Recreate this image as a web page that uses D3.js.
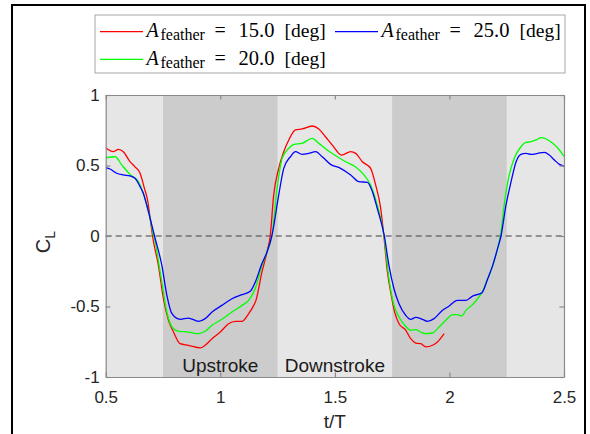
<!DOCTYPE html>
<html>
<head>
<meta charset="utf-8">
<script src="https://cdn.jsdelivr.net/npm/d3@7"></script>
<style>
    body { margin: 0; background: #fff; }
    svg { display: block; }
    .tick text { font-family: "Liberation Sans", Arial, sans-serif; font-size: 17px; fill: #262626; }
    .axis path, .axis line { stroke: #8a8a8a; stroke-width: 1.2; }
    .line { fill: none; stroke-width: 1.3; }
</style>
</head>
<body>
<svg id="diagram_cl" width="590" height="434"></svg>
<script>
// t/T, C_L
var red15 = [[0.500,0.626],[0.533,0.598],[0.555,0.615],[0.577,0.598],[0.606,0.527],[0.628,0.490],[0.650,0.445],[0.669,0.338],[0.684,0.243],[0.694,0.125],[0.706,-0.016],[0.730,-0.208],[0.752,-0.445],[0.774,-0.598],[0.796,-0.681],[0.825,-0.764],[0.861,-0.775],[0.913,-0.794],[0.934,-0.775],[0.964,-0.728],[1.000,-0.681],[1.036,-0.622],[1.066,-0.605],[1.095,-0.605],[1.124,-0.551],[1.146,-0.492],[1.155,-0.460],[1.182,-0.255],[1.204,-0.113],[1.218,0.000],[1.233,0.290],[1.255,0.480],[1.277,0.598],[1.299,0.681],[1.328,0.752],[1.357,0.759],[1.401,0.780],[1.430,0.759],[1.459,0.704],[1.489,0.645],[1.529,0.574],[1.569,0.598],[1.591,0.586],[1.620,0.527],[1.656,0.480],[1.678,0.362],[1.700,0.196],[1.714,0.000],[1.729,-0.250],[1.746,-0.420],[1.761,-0.540],[1.780,-0.622],[1.809,-0.667],[1.831,-0.728],[1.853,-0.759],[1.875,-0.764],[1.897,-0.787],[1.926,-0.775],[1.948,-0.752],[1.977,-0.693]];

var green20 = [[0.500,0.555],[0.541,0.562],[0.570,0.504],[0.606,0.437],[0.643,0.385],[0.664,0.303],[0.679,0.220],[0.694,0.125],[0.708,0.007],[0.716,-0.043],[0.738,-0.255],[0.767,-0.539],[0.789,-0.645],[0.818,-0.676],[0.861,-0.681],[0.905,-0.693],[0.934,-0.676],[0.964,-0.633],[1.000,-0.598],[1.051,-0.539],[1.095,-0.492],[1.124,-0.456],[1.153,-0.370],[1.182,-0.208],[1.204,-0.113],[1.226,0.007],[1.248,0.338],[1.270,0.551],[1.299,0.622],[1.321,0.650],[1.357,0.657],[1.401,0.693],[1.430,0.657],[1.467,0.610],[1.511,0.562],[1.547,0.527],[1.591,0.490],[1.627,0.433],[1.656,0.362],[1.685,0.220],[1.714,0.007],[1.736,-0.300],[1.758,-0.492],[1.780,-0.574],[1.809,-0.640],[1.831,-0.669],[1.853,-0.664],[1.875,-0.681],[1.897,-0.693],[1.926,-0.688],[1.955,-0.645],[1.984,-0.598],[2.014,-0.558],[2.035,-0.558],[2.054,-0.567],[2.072,-0.527],[2.101,-0.487],[2.123,-0.445],[2.142,-0.402],[2.167,-0.303],[2.189,-0.208],[2.210,-0.090],[2.225,0.028],[2.239,0.220],[2.261,0.433],[2.283,0.551],[2.312,0.633],[2.334,0.664],[2.356,0.669],[2.378,0.681],[2.400,0.697],[2.422,0.688],[2.451,0.657],[2.480,0.610],[2.500,0.565]];

var blue25 = [[0.500,0.484],[0.519,0.475],[0.548,0.445],[0.577,0.433],[0.606,0.426],[0.628,0.409],[0.650,0.350],[0.664,0.303],[0.679,0.220],[0.694,0.125],[0.713,0.000],[0.745,-0.208],[0.767,-0.421],[0.789,-0.551],[0.825,-0.591],[0.861,-0.582],[0.905,-0.605],[0.934,-0.586],[0.964,-0.539],[1.007,-0.492],[1.051,-0.445],[1.095,-0.416],[1.131,-0.392],[1.153,-0.326],[1.182,-0.195],[1.204,-0.113],[1.225,0.000],[1.255,0.290],[1.277,0.480],[1.306,0.562],[1.328,0.598],[1.357,0.579],[1.386,0.586],[1.416,0.598],[1.445,0.562],[1.481,0.508],[1.525,0.480],[1.569,0.433],[1.605,0.385],[1.642,0.381],[1.664,0.314],[1.685,0.196],[1.716,0.000],[1.736,-0.208],[1.758,-0.374],[1.780,-0.480],[1.809,-0.562],[1.831,-0.591],[1.853,-0.577],[1.882,-0.591],[1.904,-0.605],[1.933,-0.586],[1.970,-0.527],[1.999,-0.496],[2.035,-0.456],[2.072,-0.456],[2.101,-0.426],[2.142,-0.402],[2.167,-0.303],[2.189,-0.208],[2.210,-0.090],[2.225,0.000],[2.247,0.220],[2.269,0.385],[2.291,0.527],[2.312,0.579],[2.334,0.586],[2.356,0.579],[2.385,0.586],[2.414,0.593],[2.436,0.574],[2.458,0.539],[2.480,0.508],[2.500,0.496]];

var xTicks = [0.5, 1, 1.5, 2, 2.5];
var xTickLabels = ["0.5", "1", "1.5", "2", "2.5"];
var yTicks = [-1, -0.5, 0, 0.5, 1];
var yTickLabels = ["-1", "-0.5", "0", "0.5", "1"];

var upstrokeBands = [[0.75, 1.25], [1.75, 2.25]];
var phaseLabels = ["Upstroke", "Downstroke"];
var phaseLabelT = [1.0, 1.5];

var legendLabels = ["15.0", "25.0", "20.0"];

var svg = d3.select('#diagram_cl');

var margin = { top: 95, right: 26, bottom: 57, left: 105.7 }
    , width = svg.attr("width") - margin.left - margin.right
    , height = svg.attr("height") - margin.top - margin.bottom;

var xScale = d3.scaleLinear().domain([0.5, 2.5]).range([0, width]);
var yScale = d3.scaleLinear().domain([-1, 1]).range([height, 0]);

// figure frame
svg.append("rect")
    .attr("x", 12).attr("y", 5)
    .attr("width", 573).attr("height", 460)
    .attr("fill", "none")
    .attr("stroke", "#000")
    .attr("stroke-width", 2);

var g = svg.append("g")
    .attr("transform", `translate(${margin.left},${margin.top})`);

g.append("clipPath").attr("id", "plot-clip")
    .append("rect").attr("width", width).attr("height", height);

// background + upstroke shading
g.append("rect")
    .attr("width", width).attr("height", height)
    .attr("fill", "#e6e6e6");

g.selectAll(".band")
    .data(upstrokeBands)
    .enter().append("rect")
    .attr("x", d => xScale(d[0]))
    .attr("width", d => xScale(d[1]) - xScale(d[0]))
    .attr("y", 0)
    .attr("height", height)
    .attr("fill", "#cccccc");

g.append("line")
    .attr("x1", 0).attr("x2", width)
    .attr("y1", yScale(0)).attr("y2", yScale(0))
    .attr("stroke", "#404040")
    .attr("stroke-width", 1.2)
    .attr("stroke-dasharray", "6,4");

var lineCL = d3.line()
    .x(d => xScale(d[0]))
    .y(d => yScale(d[1]))
    .curve(d3.curveMonotoneX);

var series = [red15, green20, blue25];
var colors = ["#ff0000", "#00ff00", "#0000ff"];

for (let i = 0; i < series.length; i++) {
    g.append("path")
        .datum(series[i])
        .classed("line", true)
        .attr("clip-path", "url(#plot-clip)")
        .attr("stroke", colors[i])
        .attr("d", lineCL);
}

g.selectAll(".phase")
    .data(phaseLabels)
    .enter().append("text")
    .attr("x", (d, i) => xScale(phaseLabelT[i]))
    .attr("y", height - 5)
    .attr("text-anchor", "middle")
    .style("font-family", '"Liberation Sans", Arial, sans-serif')
    .style("font-size", "19px")
    .attr("fill", "#1a1a1a")
    .text(d => d);

//axis
g.append("g")
    .classed("axis", true)
    .attr("transform", "translate(0," + height + ")")
    .call(d3.axisBottom(xScale).tickValues(xTicks)
        .tickFormat((d, i) => xTickLabels[i])
        .tickSizeInner(-4.6).tickSizeOuter(0).tickPadding(14));

g.append("g")
    .classed("axis", true)
    .call(d3.axisTop(xScale).tickValues(xTicks).tickFormat("")
        .tickSizeInner(-4.6).tickSizeOuter(0));

g.append("g")
    .classed("axis", true)
    .call(d3.axisLeft(yScale).tickValues(yTicks)
        .tickFormat((d, i) => yTickLabels[i])
        .tickSizeInner(-4.6).tickSizeOuter(0).tickPadding(6));

g.append("g")
    .classed("axis", true)
    .attr("transform", "translate(" + width + ",0)")
    .call(d3.axisRight(yScale).tickValues(yTicks).tickFormat("")
        .tickSizeInner(-4.6).tickSizeOuter(0));

g.selectAll(".axis .tick text").attr("fill", "#262626");

g.append("text")
    .attr("x", xScale(1.5))
    .attr("y", height + 51)
    .style("text-anchor", "middle")
    .style("font-family", '"Liberation Sans", Arial, sans-serif')
    .style("font-size", "19px")
    .attr("fill", "#262626")
    .text("t/T");

var ylab = svg.append("text")
    .attr("transform", "translate(50,242) rotate(-90)")
    .style("text-anchor", "middle")
    .style("font-family", '"Liberation Sans", Arial, sans-serif')
    .attr("fill", "#262626");
ylab.append("tspan").style("font-size", "20px").text("C");
ylab.append("tspan").style("font-size", "14px").attr("dy", 5).text("L");

// legend
const legend = svg.append("g").attr("id", "legend");

legend.append("rect")
    .attr("x", 95).attr("y", 15)
    .attr("width", 470).attr("height", 58)
    .attr("fill", "#fff")
    .attr("stroke", "#a6a6a6")
    .attr("stroke-width", 1);

var legendColors = ["#ff0000", "#0000ff", "#00ff00"];
var legendX = [100, 335, 100];
var legendY = [31.7, 31.7, 59.3];

const legendEntries = legend.selectAll(".entry")
    .data(legendLabels)
    .enter().append("g")
    .attr("transform", (d, i) => `translate(${legendX[i]},${legendY[i]})`);

legendEntries.append("line")
    .attr("x1", 0).attr("x2", 43)
    .attr("stroke", (d, i) => legendColors[i])
    .attr("stroke-width", 1.3);

const lt = legendEntries.append("text")
    .attr("y", 5.5)
    .style("font-family", '"Liberation Serif", "Times New Roman", serif')
    .style("font-size", "19px")
    .attr("fill", "#000");

lt.append("tspan").attr("x", 46.5).style("font-style", "italic").style("font-size", "20px").text("A");
lt.append("tspan").attr("x", 60.5).attr("dy", 3).style("font-size", "16px").text("feather");
lt.append("tspan").attr("x", 114.5).attr("dy", -3).style("font-size", "20px").text("=");
lt.append("tspan").attr("x", 138.5).style("font-size", "20.5px").text(d => d);
lt.append("tspan").attr("x", 184.5).style("font-size", "19.5px").text("[deg]");
</script>
</body>
</html>
